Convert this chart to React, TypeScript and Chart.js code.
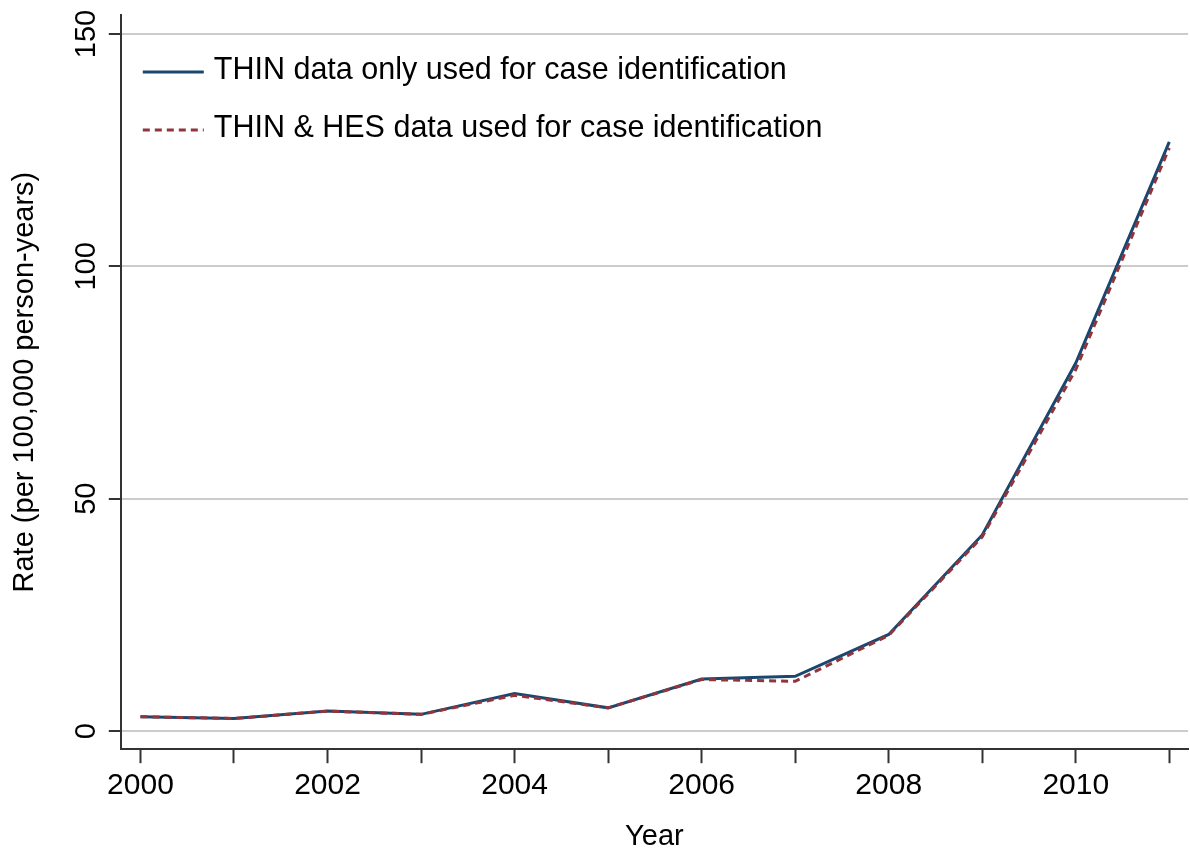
import React, { useEffect, useRef } from "react";
import { Chart, registerables } from "chart.js";

Chart.register(...registerables);

const years = [2000, 2001, 2002, 2003, 2004, 2005, 2006, 2007, 2008, 2009, 2010, 2011];
const thinOnly = [3.1, 2.7, 4.3, 3.6, 8.1, 5.0, 11.2, 11.8, 20.8, 42.2, 79.2, 126.8];
const thinHes = [3.1, 2.7, 4.3, 3.6, 7.7, 5.0, 11.1, 10.7, 20.6, 41.8, 77.8, 125.5];
const seriesLabels = [
  "THIN data only used for case identification",
  "THIN & HES data used for case identification",
];
const yTicks = [0, 50, 100, 150];

const FONT = "'Liberation Sans', Arial, Helvetica, sans-serif";
const NAVY = "#1a476f";
const MAROON = "#90353b";
const AXIS = "#333333";
const GRID = "#cccccc";

const customPlugin = {
  id: "stataDecor",
  afterDraw(chart: any) {
    const ctx = chart.ctx;
    const y = chart.scales.y;
    ctx.save();
    ctx.fillStyle = "#000";
    ctx.font = `29px ${FONT}`;
    ctx.textAlign = "center";
    ctx.textBaseline = "middle";
    y.ticks.forEach((t: any) => {
      if (!yTicks.includes(t.value)) return;
      const py = y.getPixelForValue(t.value);
      ctx.save();
      ctx.translate(87, py);
      ctx.rotate(-Math.PI / 2);
      ctx.fillText(String(t.value), 0, 0);
      ctx.restore();
    });
    const area = chart.chartArea;
    const order = [1, 0];
    order.forEach((dsIndex, i) => {
      const ds = chart.data.datasets[dsIndex];
      const ly = area.top + 57 + i * 58;
      ctx.beginPath();
      ctx.strokeStyle = ds.borderColor;
      ctx.lineWidth = 3;
      ctx.setLineDash(ds.borderDash || []);
      ctx.moveTo(area.left + 22, ly);
      ctx.lineTo(area.left + 83, ly);
      ctx.stroke();
      ctx.setLineDash([]);
      ctx.fillStyle = "#000";
      ctx.font = `30.5px ${FONT}`;
      ctx.textAlign = "left";
      ctx.textBaseline = "middle";
      ctx.fillText(ds.label, area.left + 93, ly - 1);
    });
    ctx.restore();
  },
};

export default function App() {
  const ref = useRef<HTMLCanvasElement | null>(null);
  useEffect(() => {
    if (!ref.current) return;
    const chart = new Chart(ref.current, {
      type: "line",
      data: {
        datasets: [
          {
            label: seriesLabels[1],
            data: years.map((x, i) => ({ x, y: thinHes[i] })),
            borderColor: MAROON,
            borderWidth: 3,
            borderDash: [7, 5],
            pointRadius: 0,
            fill: false,
            tension: 0,
            order: 0,
          },
          {
            label: seriesLabels[0],
            data: years.map((x, i) => ({ x, y: thinOnly[i] })),
            borderColor: NAVY,
            borderWidth: 3,
            pointRadius: 0,
            fill: false,
            tension: 0,
            order: 1,
          },
        ],
      },
      options: {
        animation: false,
        responsive: true,
        maintainAspectRatio: false,
        layout: { padding: { left: 0, top: 15, right: 2, bottom: 0 } },
        plugins: {
          legend: { display: false },
          tooltip: { enabled: false },
        },
        scales: {
          x: {
            type: "linear",
            min: 1999.79,
            max: 2011.2,
            grid: {
              drawOnChartArea: false,
              drawTicks: true,
              tickLength: 14,
              tickColor: AXIS,
              tickWidth: 2,
            },
            border: { display: true, color: AXIS, width: 2 },
            ticks: {
              stepSize: 1,
              includeBounds: false,
              autoSkip: false,
              maxRotation: 0,
              padding: 5,
              color: "#000",
              font: { family: FONT, size: 30 },
              callback: (v: any) => (Number(v) % 2 === 0 ? String(v) : ""),
            },
            title: {
              display: true,
              text: "Year",
              color: "#000",
              font: { family: FONT, size: 29 },
              padding: { top: 10, bottom: 0 },
            },
          },
          y: {
            type: "linear",
            min: -3.9,
            max: 154.1,
            grid: {
              drawOnChartArea: true,
              color: GRID,
              lineWidth: 2,
              drawTicks: true,
              tickLength: 12,
              tickColor: AXIS,
              tickWidth: 2,
            },
            border: { display: true, color: AXIS, width: 2 },
            ticks: {
              display: false,
              stepSize: 50,
              includeBounds: false,
            },
            title: {
              display: true,
              text: "Rate (per 100,000 person-years)",
              color: "#000",
              font: { family: FONT, size: 29 },
              padding: { top: 8, bottom: 66 },
            },
          },
        },
      },
      plugins: [customPlugin],
    });
    return () => chart.destroy();
  }, []);
  return (
    <div style={{ position: "fixed", left: 0, top: 0, width: 1190, height: 854, background: "#fff" }}>
      <canvas ref={ref} />
    </div>
  );
}
